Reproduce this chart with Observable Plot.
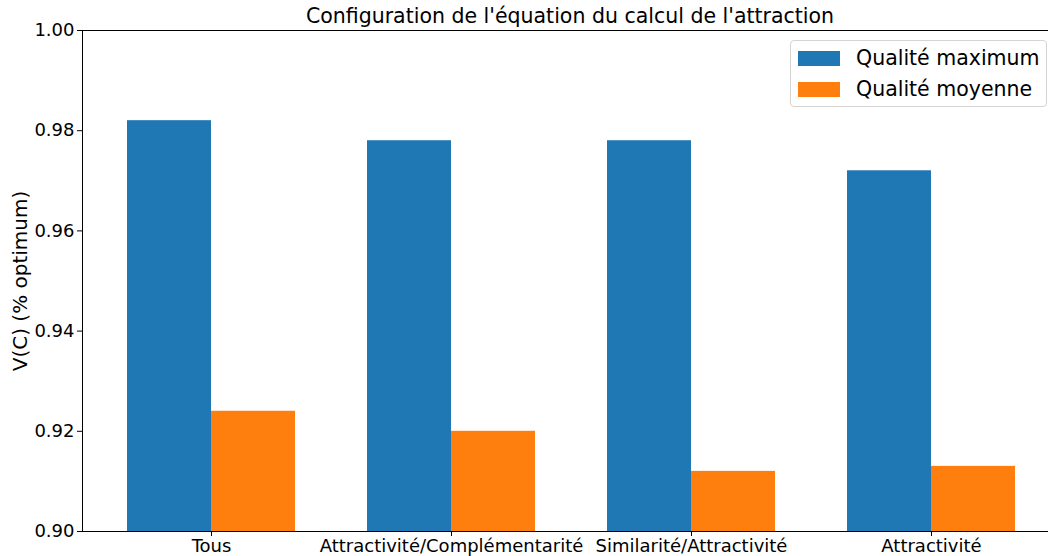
<!DOCTYPE html>
<html>
<head>
<meta charset="utf-8">
<script src="https://cdn.jsdelivr.net/npm/d3@7"></script>
<script src="https://cdn.jsdelivr.net/npm/@observablehq/plot@0.6"></script>
<style>
  html, body { margin: 0; padding: 0; background: #fff; overflow: hidden; }
  #wrap { position: relative; width: 1048px; height: 556px; font-family: "DejaVu Sans", sans-serif; }
  #title { position: absolute; left: 0; top: 4px; width: 1140px; text-align: center; font-size: 20.5px; color: #000; white-space: nowrap; }
  #ylabel { position: absolute; left: 20px; top: 281px; transform: translate(-50%, -50%) rotate(-90deg); font-size: 20px; white-space: nowrap; color: #000; }
  #legend { position: absolute; left: 790px; top: 40px; width: 257px; height: 67px; border: 1px solid #d4d4d4; border-radius: 4px; background: rgba(255,255,255,0.8); box-sizing: border-box; }
  .item { position: absolute; left: 7px; height: 22px; display: flex; align-items: center; font-size: 20.5px; color: #000; white-space: nowrap; }
  .sw { width: 42px; height: 15px; margin-right: 16px; }
</style>
</head>
<body>
<div id="wrap">
  <div id="chart"></div>
  <div id="title">Configuration de l'équation du calcul de l'attraction</div>
  <div id="ylabel">V(C) (% optimum)</div>
  <div id="legend"></div>
</div>
<script>
const categories = ["Tous", "Attractivité/Complémentarité", "Similarité/Attractivité", "Attractivité"];
const qualiteMaximum = [0.982, 0.978, 0.978, 0.972];
const qualiteMoyenne = [0.924, 0.920, 0.912, 0.913];
const seriesNames = ["Qualité maximum", "Qualité moyenne"];
const seriesColors = ["#1f77b4", "#ff7f0e"];
const yTicks = [0.90, 0.92, 0.94, 0.96, 0.98, 1.00];
const yMin = 0.90, yMax = 1.00;

const data = categories.map((c, i) => ({cat: c, max: qualiteMaximum[i], moy: qualiteMoyenne[i], base: yMin}));

const W = 1048, H = 556;
const mL = 82, mR = -11, mT = 30, mB = 25;
const padInner = 0.3, padOuter = 0.185;
const step = (W - mL - mR) / (categories.length - padInner + 2 * padOuter);
const half = step * (1 - padInner) / 2;

const chart = Plot.plot({
  width: W,
  height: H,
  marginLeft: mL,
  marginRight: mR,
  marginTop: mT,
  marginBottom: mB,
  style: {fontFamily: "DejaVu Sans, sans-serif", fontSize: "18px", color: "#000", background: "#fff", overflow: "hidden"},
  x: {domain: categories, paddingInner: padInner, paddingOuter: padOuter, align: 0.5, axis: null},
  y: {domain: [yMin, yMax], axis: null},
  marks: [
    Plot.barY(data, {x: "cat", y1: "base", y2: "max", fill: seriesColors[0], insetLeft: 0, insetRight: half}),
    Plot.barY(data, {x: "cat", y1: "base", y2: "moy", fill: seriesColors[1], insetLeft: half, insetRight: 0}),
    Plot.axisY({ticks: yTicks, tickFormat: d3.format(".2f"), tickSize: 5, tickPadding: 3, fontSize: 18, label: null, stroke: "#000"}),
    Plot.axisX({tickSize: 5, tickPadding: 3, fontSize: 18, label: null, stroke: "#000"}),
    Plot.frame({stroke: "#000", strokeWidth: 1})
  ]
});
document.getElementById("chart").appendChild(chart);

const legend = document.getElementById("legend");
seriesNames.forEach((name, i) => {
  const it = document.createElement("div");
  it.className = "item";
  it.style.top = (i === 0 ? 6 : 37) + "px";
  const sw = document.createElement("div");
  sw.className = "sw";
  sw.style.background = seriesColors[i];
  it.appendChild(sw);
  const t = document.createElement("span");
  t.textContent = name;
  it.appendChild(t);
  legend.appendChild(it);
});
</script>
</body>
</html>
